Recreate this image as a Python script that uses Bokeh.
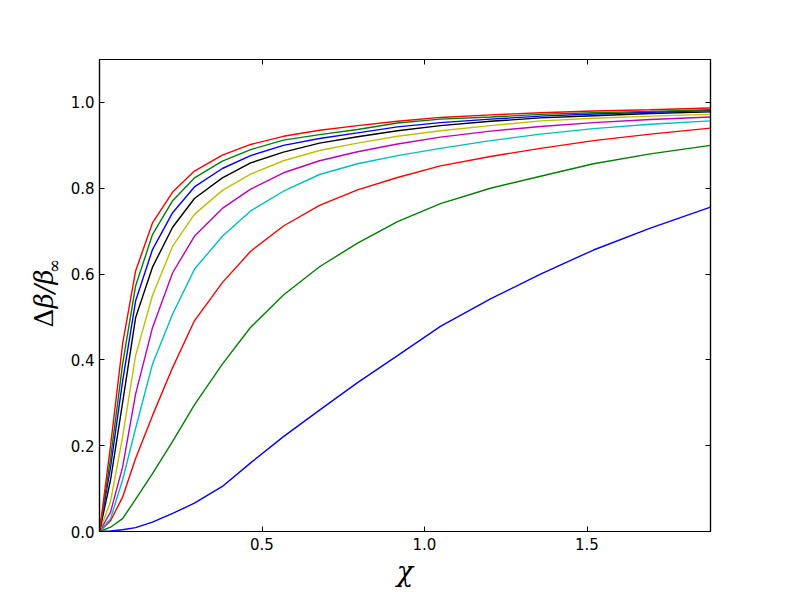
import math
from bokeh.plotting import figure
from bokeh.layouts import row
from bokeh.models import (Range1d, FixedTicker, LinearAxis,
                          NumeralTickFormatter, CustomJSTickFormatter)
from bokeh.core.properties import value
from bokeh.embed import file_html
from bokeh.resources import INLINE

# ---- data ----
chi = [0, 0.034, 0.071, 0.111, 0.163, 0.225, 0.292, 0.378, 0.465, 0.566, 0.677,
       0.794, 0.917, 1.049, 1.203, 1.357, 1.52, 1.695, 1.88]

c1 = [0, 0.001, 0.004, 0.009, 0.022, 0.042, 0.066, 0.105, 0.16, 0.221, 0.283,
      0.347, 0.41, 0.478, 0.542, 0.6, 0.656, 0.707, 0.756]
c2 = [0, 0.01, 0.03, 0.075, 0.135, 0.21, 0.295, 0.39, 0.476, 0.551, 0.617,
      0.672, 0.722, 0.764, 0.8, 0.828, 0.857, 0.88, 0.9]
c3 = [0, 0.025, 0.08, 0.17, 0.27, 0.382, 0.491, 0.58, 0.653, 0.712, 0.76,
      0.796, 0.825, 0.852, 0.874, 0.893, 0.911, 0.926, 0.94]
c4 = [0, 0.03, 0.12, 0.24, 0.39, 0.507, 0.611, 0.688, 0.747, 0.793, 0.832,
      0.857, 0.876, 0.893, 0.911, 0.926, 0.939, 0.949, 0.957]
c5 = [0, 0.045, 0.15, 0.32, 0.475, 0.603, 0.688, 0.753, 0.798, 0.836, 0.864,
      0.885, 0.903, 0.919, 0.933, 0.944, 0.953, 0.96, 0.966]
c6 = [0, 0.07, 0.22, 0.41, 0.55, 0.665, 0.739, 0.795, 0.833, 0.864, 0.888,
      0.905, 0.921, 0.934, 0.946, 0.957, 0.963, 0.968, 0.972]
c7 = [0, 0.12, 0.3, 0.498, 0.616, 0.709, 0.776, 0.824, 0.859, 0.884, 0.905,
      0.92, 0.934, 0.946, 0.956, 0.964, 0.969, 0.974, 0.978]
c8 = [0, 0.15, 0.35, 0.537, 0.657, 0.743, 0.803, 0.846, 0.876, 0.9, 0.916,
      0.929, 0.943, 0.953, 0.961, 0.968, 0.973, 0.977, 0.981]
c9 = [0, 0.17, 0.39, 0.572, 0.692, 0.771, 0.824, 0.863, 0.89, 0.912, 0.925,
      0.937, 0.952, 0.961, 0.966, 0.972, 0.976, 0.979, 0.983]
c10 = [0, 0.2, 0.437, 0.607, 0.719, 0.791, 0.84, 0.877, 0.902, 0.921, 0.935,
       0.946, 0.956, 0.965, 0.971, 0.976, 0.98, 0.983, 0.987]

series = [c1, c2, c3, c4, c5, c6, c7, c8, c9, c10]
colors = ["#0000ff", "#008000", "#ff0000", "#00bfbf", "#bf00bf", "#bfbf00",
          "#000000", "#0000ff", "#008000", "#ff0000"]

x_ticks = [0.5, 1.0, 1.5]
y_ticks = [0.0, 0.2, 0.4, 0.6, 0.8, 1.0]

x_title = "χ"
y_title_delta = "Δ"
y_title_main = "β/β"
y_title_sub = "∞"

H = 592
LW = 66  # width of the strip that holds the y title

# ---- strip holding the y-axis title ----
pl = figure(width=LW, height=H, x_range=Range1d(0, LW), y_range=Range1d(0, H),
            output_backend="svg", toolbar_location=None, min_border=0)
pl.axis.visible = False
pl.grid.visible = False
pl.outline_line_color = None
pl.background_fill_color = "white"
pl.border_fill_color = "white"
pl.text(x=[43], y=[H - 336], text=[y_title_delta], angle=math.pi / 2,
        text_align="left", text_baseline="middle",
        text_font=value("DejaVu Serif"),
        text_font_size="26px", text_color="black")
pl.text(x=[43], y=[H - 312], text=[y_title_main], angle=math.pi / 2,
        text_align="left", text_baseline="middle",
        text_font=value("DejaVu Serif"), text_font_style="italic",
        text_font_size="26px", text_color="black")
pl.text(x=[53], y=[H - 268], text=[y_title_sub], angle=math.pi / 2,
        text_align="left", text_baseline="middle",
        text_font=value("DejaVu Serif"),
        text_font_size="17px", text_color="black")

# ---- main figure ----
p = figure(width=785 - LW, height=H,
           x_range=Range1d(0, 1.88), y_range=Range1d(0, 1.1),
           output_backend="svg", toolbar_location=None,
           min_border_left=99 - LW, min_border_right=75,
           min_border_top=59, min_border_bottom=61)
p.background_fill_color = "white"
p.border_fill_color = "white"
p.outline_line_color = "black"
p.outline_line_width = 1.2
p.xgrid.visible = False
p.ygrid.visible = False

for ys, col in zip(series, colors):
    p.line(chi, ys, line_color=col, line_width=1.4)

def style_axis(ax):
    ax.major_tick_in = 5
    ax.major_tick_out = 0
    ax.minor_tick_in = 0
    ax.minor_tick_out = 0
    ax.axis_line_color = "black"
    ax.axis_line_width = 1.2
    ax.major_tick_line_color = "black"
    ax.major_tick_line_width = 1
    ax.major_label_text_font = "DejaVu Sans"
    ax.major_label_text_font_size = "15px"
    ax.major_label_text_color = "black"
    ax.major_label_standoff = 6

xa = p.xaxis[0]
xa.ticker = FixedTicker(ticks=x_ticks)
xa.formatter = NumeralTickFormatter(format="0.0")
style_axis(xa)
xa.axis_label = x_title
xa.axis_label_text_font = "DejaVu Serif"
xa.axis_label_text_font_style = "italic"
xa.axis_label_text_font_size = "27px"
xa.axis_label_text_color = "black"
xa.axis_label_standoff = 3

ya = p.yaxis[0]
ya.ticker = FixedTicker(ticks=y_ticks)
ya.formatter = NumeralTickFormatter(format="0.0")
style_axis(ya)
ya.major_label_standoff = 5

blank = CustomJSTickFormatter(code="return '';")
ra = LinearAxis(ticker=FixedTicker(ticks=y_ticks), formatter=blank)
style_axis(ra)
p.add_layout(ra, "right")

ta = LinearAxis(ticker=FixedTicker(ticks=x_ticks), formatter=blank)
style_axis(ta)
p.add_layout(ta, "above")

layout = row(pl, p, spacing=0)
open("out.html", "w").write(file_html(layout, INLINE))
